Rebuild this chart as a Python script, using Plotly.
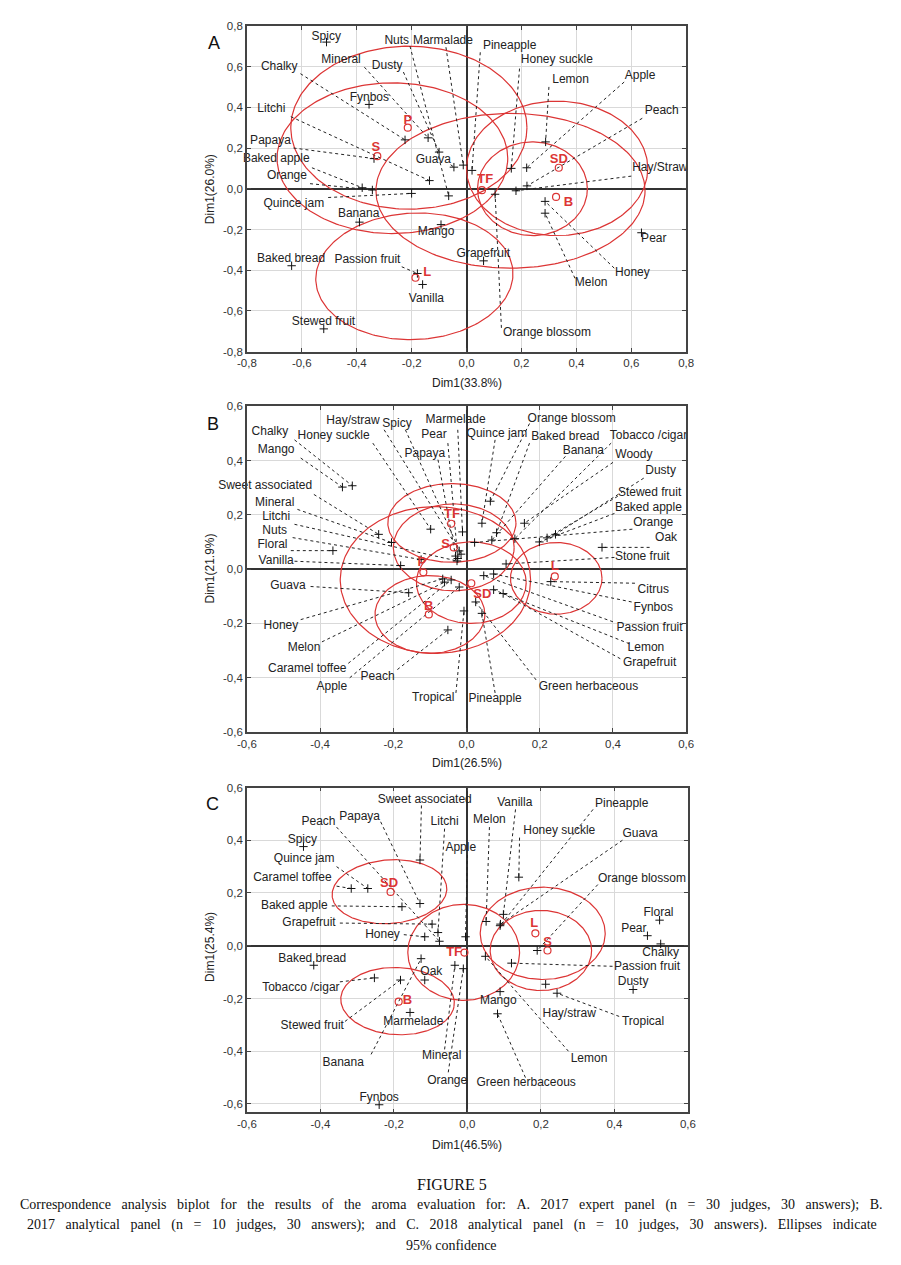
import numpy as np
import plotly.graph_objects as go

# ---------------- Panel A data ----------------
A_attr = ["Spicy", "Nuts", "Marmalade", "Pineapple", "Chalky", "Mineral", "Dusty", "Honey suckle",
          "Lemon", "Apple", "Litchi", "Fynbos", "Peach", "Papaya", "Guava", "Baked apple",
          "Hay/Straw", "Orange", "Quince jam", "Banana", "Mango", "Pear", "Grapefruit",
          "Baked bread", "Passion fruit", "Honey", "Melon", "Vanilla", "Stewed fruit", "Orange blossom"]
A_x = [-0.51, -0.065, -0.012, 0.02, -0.224, -0.14, -0.10, 0.163, 0.288, 0.219, -0.135, -0.355,
       0.22, -0.337, -0.046, -0.38, 0.18, -0.343, -0.20, -0.39, -0.093, 0.637, 0.062, -0.637,
       -0.179, 0.286, 0.286, -0.16, -0.52, 0.104]
A_y = [0.72, -0.035, 0.116, 0.09, 0.24, 0.25, 0.18, 0.10, 0.23, 0.103, 0.04, 0.414, 0.014,
       0.148, 0.106, 0.005, -0.01, -0.006, -0.023, -0.164, -0.176, -0.216, -0.354, -0.378,
       -0.416, -0.062, -0.12, -0.47, -0.688, -0.027]
A_lab_x = [-0.511, -0.254, -0.086, 0.157, -0.682, -0.457, -0.289, 0.329, 0.379, 0.632, -0.711,
           -0.354, 0.711, -0.714, -0.121, -0.693, 0.704, -0.654, -0.629, -0.393, -0.111, 0.682,
           0.061, -0.639, -0.361, 0.604, 0.454, -0.146, -0.521, 0.293]
A_lab_y = [0.747, 0.727, 0.727, 0.703, 0.596, 0.63, 0.601, 0.63, 0.533, 0.553, 0.393, 0.446,
           0.383, 0.233, 0.14, 0.145, 0.102, 0.063, -0.073, -0.126, -0.213, -0.247, -0.318,
           -0.344, -0.349, -0.412, -0.461, -0.539, -0.655, -0.708]
A_lead_x = [None, -0.206, -0.075, 0.05, -0.605, -0.372, -0.23, 0.193, 0.30, 0.574, -0.64, None,
            0.64, -0.63, -0.058, -0.563, 0.60, -0.57, -0.504, None, None, None, None, None,
            -0.236, 0.538, 0.395, None, None, 0.127]
A_lead_y = [None, 0.70, 0.695, 0.67, 0.565, 0.597, 0.573, 0.59, 0.50, 0.524, 0.354, None,
            0.346, 0.20, 0.118, 0.103, 0.062, 0.025, -0.043, None, None, None, None, None,
            -0.383, -0.39, -0.44, None, None, -0.683]
A_prod = ["P", "S", "TF", "SD", "B", "L"]
A_prod_x = [-0.214, -0.325, 0.056, 0.336, 0.326, -0.186]
A_prod_y = [0.30, 0.16, -0.007, 0.103, -0.04, -0.437]
A_prod_lab_x = [-0.214, -0.33, 0.068, 0.336, 0.371, -0.143]
A_prod_lab_y = [0.333, 0.20, 0.046, 0.143, -0.067, -0.412]
A_ell_cx = [-0.21, -0.27, 0.16, 0.33, 0.24, -0.19]
A_ell_cy = [0.30, 0.15, -0.01, 0.10, 0.0, -0.43]
A_ell_rx = [0.43, 0.42, 0.49, 0.33, 0.20, 0.36]
A_ell_ry = [0.40, 0.37, 0.38, 0.33, 0.23, 0.31]
A_ell_ang = [0, 0, 0, 0, 0, 8]
A_ticks = [-0.8, -0.6, -0.4, -0.2, 0.0, 0.2, 0.4, 0.6, 0.8]
A_titles = ("Dim1(33.8%)", "Dim1(26.0%)")

# ---------------- Panel B data ----------------
B_attr = ["Chalky", "Mango", "Honey suckle", "Hay/straw", "Spicy", "Pear", "Papaya", "Marmelade",
          "Quince jam", "Orange blossom", "Baked bread", "Banana", "Tobacco /cigar", "Woody",
          "Dusty", "Stewed fruit", "Baked apple", "Orange", "Oak", "Stone fruit",
          "Sweet associated", "Mineral", "Litchi", "Nuts", "Floral", "Vanilla", "Guava", "Honey",
          "Melon", "Caramel toffee", "Apple", "Peach", "Tropical", "Pineapple",
          "Green herbaceous", "Grapefruit", "Lemon", "Passion fruit", "Fynbos", "Citrus"]
B_x = [-0.312, -0.339, -0.098, -0.02, -0.015, -0.024, -0.03, -0.011, 0.042, 0.065, 0.082, 0.069,
       0.132, 0.158, 0.243, 0.22, 0.199, 0.022, 0.37, 0.108, -0.24, -0.205, -0.026, -0.124,
       -0.365, -0.18, -0.158, -0.065, -0.06, -0.042, -0.02, -0.051, -0.007, 0.042, 0.025, 0.1,
       0.074, 0.047, 0.074, 0.23]
B_y = [0.307, 0.302, 0.147, 0.067, 0.055, 0.039, 0.048, 0.137, 0.169, 0.25, 0.134, 0.107, 0.112,
       0.169, 0.128, 0.115, 0.10, 0.098, 0.08, 0.019, 0.128, 0.098, 0.03, 0.035, 0.068, 0.013,
       -0.087, -0.036, -0.048, -0.04, -0.066, -0.224, -0.154, -0.163, -0.121, -0.09, -0.076,
       -0.024, -0.018, -0.046]
B_lab_x = [-0.537, -0.52, -0.363, -0.31, -0.19, -0.089, -0.114, -0.03, 0.083, 0.287, 0.27, 0.319,
           0.497, 0.457, 0.53, 0.50, 0.497, 0.51, 0.545, 0.48, -0.55, -0.524, -0.52, -0.524,
           -0.53, -0.52, -0.488, -0.507, -0.444, -0.435, -0.368, -0.243, -0.091, 0.078, 0.333,
           0.50, 0.49, 0.50, 0.51, 0.51]
B_lab_y = [0.505, 0.44, 0.49, 0.545, 0.536, 0.493, 0.424, 0.55, 0.497, 0.554, 0.487, 0.436, 0.49,
           0.42, 0.36, 0.28, 0.225, 0.17, 0.116, 0.043, 0.307, 0.244, 0.193, 0.14, 0.09, 0.031,
           -0.064, -0.21, -0.29, -0.368, -0.434, -0.397, -0.474, -0.48, -0.434, -0.344, -0.29,
           -0.218, -0.145, -0.076]
B_lead_x = [-0.47, -0.453, -0.256, -0.225, -0.167, -0.051, -0.078, -0.024, 0.078, 0.172, 0.172,
            0.27, 0.395, 0.40, 0.484, 0.413, 0.404, 0.453, 0.50, 0.404, -0.417, -0.462, -0.47,
            -0.475, -0.48, -0.47, -0.426, -0.453, -0.395, -0.323, -0.319, -0.189, -0.029, 0.078,
            0.19, 0.42, 0.445, 0.40, 0.451, 0.46]
B_lead_y = [0.476, 0.409, 0.464, 0.513, 0.513, 0.464, 0.403, 0.513, 0.476, 0.536, 0.464, 0.415,
            0.464, 0.393, 0.335, 0.268, 0.205, 0.147, 0.08, 0.043, 0.275, 0.22, 0.165, 0.116,
            0.068, 0.029, -0.064, -0.186, -0.268, -0.347, -0.40, -0.37, -0.456, -0.456, -0.408,
            -0.33, -0.275, -0.194, -0.121, -0.052]
B_prod = ["TF", "S", "P", "B", "SD", "L"]
B_prod_x = [-0.042, -0.035, -0.118, -0.103, 0.013, 0.241]
B_prod_y = [0.167, 0.08, -0.012, -0.167, -0.052, -0.027]
B_prod_lab_x = [-0.04, -0.057, -0.122, -0.103, 0.043, 0.241]
B_prod_lab_y = [0.20, 0.09, 0.025, -0.137, -0.094, 0.009]
B_ell_cx = [-0.04, -0.035, -0.085, -0.10, 0.013, 0.245]
B_ell_cy = [0.17, 0.08, -0.04, -0.167, -0.05, -0.034]
B_ell_rx = [0.175, 0.165, 0.26, 0.15, 0.15, 0.125]
B_ell_ry = [0.145, 0.16, 0.27, 0.143, 0.15, 0.132]
B_ell_ang = [0, 0, 0, 0, 0, 0]
B_ticks = [-0.6, -0.4, -0.2, 0.0, 0.2, 0.4, 0.6]
B_titles = ("Dim1(26.5%)", "Dim1(21.9%)")

# ---------------- Panel C data ----------------
C_attr = ["Sweet associated", "Litchi", "Apple", "Peach", "Papaya", "Spicy", "Quince jam",
          "Caramel toffee", "Baked apple", "Grapefruit", "Honey", "Vanilla", "Melon", "Pineapple",
          "Honey suckle", "Guava", "Orange blossom", "Floral", "Pear", "Chalky", "Baked bread",
          "Tobacco /cigar", "Stewed fruit", "Marmelade", "Banana", "Oak", "Mineral", "Orange",
          "Fynbos", "Passion fruit", "Dusty", "Tropical", "Hay/straw", "Mango",
          "Green herbaceous", "Lemon"]
C_x = [-0.129, -0.08, -0.005, -0.076, -0.129, -0.446, -0.271, -0.316, -0.178, -0.096, -0.116,
       0.098, 0.051, 0.089, 0.14, 0.09, 0.19, 0.523, 0.49, 0.526, -0.418, -0.253, -0.182, -0.156,
       -0.126, -0.116, -0.034, -0.011, -0.24, 0.12, 0.451, 0.244, 0.213, 0.089, 0.082, 0.049]
C_y = [0.325, 0.05, 0.034, 0.017, 0.16, 0.376, 0.217, 0.217, 0.148, 0.082, 0.034, 0.119, 0.092,
       0.076, 0.26, 0.082, -0.018, 0.097, 0.038, 0.007, -0.074, -0.122, -0.13, -0.253, -0.049,
       -0.13, -0.074, -0.087, -0.603, -0.066, -0.166, -0.18, -0.146, -0.174, -0.258, -0.04]
C_lab_x = [-0.116, -0.062, -0.018, -0.405, -0.293, -0.449, -0.444, -0.476, -0.471, -0.431,
           -0.231, 0.129, 0.06, 0.42, 0.25, 0.47, 0.475, 0.52, 0.453, 0.526, -0.422, -0.453,
           -0.422, -0.147, -0.338, -0.098, -0.07, -0.055, -0.24, 0.489, 0.451, 0.478, 0.277,
           0.084, 0.16, 0.331]
C_lab_y = [0.554, 0.47, 0.37, 0.47, 0.488, 0.40, 0.328, 0.257, 0.151, 0.086, 0.042, 0.542, 0.475,
           0.538, 0.434, 0.425, 0.254, 0.125, 0.063, -0.028, -0.05, -0.162, -0.303, -0.29,
           -0.443, -0.1, -0.42, -0.514, -0.577, -0.081, -0.137, -0.29, -0.258, -0.208, -0.52,
           -0.43]
C_lead_x = [-0.125, -0.062, 0.0, -0.356, -0.236, None, -0.356, -0.356, -0.369, -0.347, -0.173,
            0.131, 0.06, 0.342, 0.142, 0.422, 0.355, None, None, None, None, -0.347, -0.333,
            None, -0.262, None, -0.062, -0.052, None, 0.395, None, 0.413, None, None, 0.158,
            0.275]
C_lead_y = [0.532, 0.444, 0.344, 0.45, 0.47, None, 0.30, 0.226, 0.151, 0.086, 0.042, 0.517, 0.45,
            0.517, 0.41, 0.40, 0.232, None, None, None, None, -0.137, -0.287, None, -0.412,
            None, -0.393, -0.48, None, -0.078, None, -0.268, None, None, -0.50, -0.40]
C_prod = ["SD", "TF", "L", "S", "B"]
C_prod_x = [-0.209, -0.008, 0.185, 0.218, -0.187]
C_prod_y = [0.204, -0.026, 0.047, -0.018, -0.212]
C_prod_lab_x = [-0.213, -0.036, 0.182, 0.218, -0.163]
C_prod_lab_y = [0.234, -0.028, 0.082, 0.013, -0.208]
C_ell_cx = [-0.212, -0.01, 0.205, 0.20, -0.19]
C_ell_cy = [0.205, -0.025, 0.047, -0.018, -0.21]
C_ell_rx = [0.157, 0.152, 0.17, 0.138, 0.155]
C_ell_ry = [0.12, 0.182, 0.175, 0.152, 0.127]
C_ell_ang = [10, 0, 0, 0, -8]
C_ticks = [-0.6, -0.4, -0.2, 0.0, 0.2, 0.4, 0.6]
C_titles = ("Dim1(46.5%)", "Dim1(25.4%)")

CAPTION_TITLE = "FIGURE 5"
CAPTION = [
    "Correspondence analysis biplot for the results of the aroma evaluation for: A. 2017 expert panel (n = 30 judges, 30 answers); B.",
    "2017 analytical panel (n = 10 judges, 30 answers); and C. 2018 analytical panel (n = 10 judges, 30 answers). Ellipses indicate",
    "95% confidence",
]

# ---------------- figure ----------------
W, H = 901, 1265
RED = "#dc3535"
FONT = "Arial, Liberation Sans, sans-serif"
SERIF = "Liberation Serif, Times New Roman, serif"
NB = "\u00a0"

fig = go.Figure()
annotations = []


def px_x(p):
    return p / W


def px_y(p):
    return 1 - p / H


def fmt(v):
    s = f"{v:.1f}".replace(".", ",")
    return "0,0" if s == "-0,0" else s


def justify(line, extra_pattern):
    words = line.split(" ")
    out = words[0]
    for k, w in enumerate(words[1:]):
        out += " " + NB * extra_pattern[k % len(extra_pattern)] + w
    return out


panels = [
    dict(attr=A_attr, x=A_x, y=A_y, lx=A_lab_x, ly=A_lab_y, dx=A_lead_x, dy=A_lead_y,
         prod=A_prod, px=A_prod_x, py=A_prod_y, plx=A_prod_lab_x, ply=A_prod_lab_y,
         ecx=A_ell_cx, ecy=A_ell_cy, erx=A_ell_rx, ery=A_ell_ry, eang=A_ell_ang,
         ticks=A_ticks, titles=A_titles, xr=[-0.8, 0.8], yr=[-0.8, 0.8],
         xdom=[241.7, 690], ydom=[349, 20], letter="A", letter_pos=(208, 37),
         xt_pos=(466, 381), yt_pos=(204, 185)),
    dict(attr=B_attr, x=B_x, y=B_y, lx=B_lab_x, ly=B_lab_y, dx=B_lead_x, dy=B_lead_y,
         prod=B_prod, px=B_prod_x, py=B_prod_y, plx=B_prod_lab_x, ply=B_prod_lab_y,
         ecx=B_ell_cx, ecy=B_ell_cy, erx=B_ell_rx, ery=B_ell_ry, eang=B_ell_ang,
         ticks=B_ticks, titles=B_titles, xr=[-0.6, 0.6], yr=[-0.6, 0.6],
         xdom=[241.7, 690], ydom=[733, 404], letter="B", letter_pos=(207, 422),
         xt_pos=(466, 764), yt_pos=(204, 568)),
    dict(attr=C_attr, x=C_x, y=C_y, lx=C_lab_x, ly=C_lab_y, dx=C_lead_x, dy=C_lead_y,
         prod=C_prod, px=C_prod_x, py=C_prod_y, plx=C_prod_lab_x, ply=C_prod_lab_y,
         ecx=C_ell_cx, ecy=C_ell_cy, erx=C_ell_rx, ery=C_ell_ry, eang=C_ell_ang,
         ticks=C_ticks, titles=C_titles, xr=[-0.6, 0.6], yr=[-0.632, 0.6],
         xdom=[241.7, 691.7], ydom=[1117, 789], letter="C", letter_pos=(207, 806),
         xt_pos=(466, 1150), yt_pos=(204, 950)),
]

layout_axes = {}
t = np.linspace(0, 2 * np.pi, 240)
for i, P in enumerate(panels, start=1):
    xa = "x" if i == 1 else f"x{i}"
    ya = "y" if i == 1 else f"y{i}"

    # confidence ellipses
    ex, ey = [], []
    for cx, cy, rx, ry, ang in zip(P["ecx"], P["ecy"], P["erx"], P["ery"], P["eang"]):
        a = np.deg2rad(ang)
        xs = cx + rx * np.cos(t) * np.cos(a) - ry * np.sin(t) * np.sin(a)
        ys = cy + rx * np.cos(t) * np.sin(a) + ry * np.sin(t) * np.cos(a)
        ex += list(xs) + [None]
        ey += list(ys) + [None]
    fig.add_trace(go.Scatter(x=ex, y=ey, mode="lines", line=dict(color=RED, width=1.2),
                             xaxis=xa, yaxis=ya, hoverinfo="skip", showlegend=False))

    # dotted leader lines (label -> point)
    lx, ly = [], []
    for x0, y0, x1, y1 in zip(P["dx"], P["dy"], P["x"], P["y"]):
        if x0 is None:
            continue
        lx += [x0, x1, None]
        ly += [y0, y1, None]
    fig.add_trace(go.Scatter(x=lx, y=ly, mode="lines",
                             line=dict(color="#222222", width=1, dash="dot"),
                             xaxis=xa, yaxis=ya, hoverinfo="skip", showlegend=False))

    # attribute points
    fig.add_trace(go.Scatter(x=P["x"], y=P["y"], mode="markers", text=P["attr"],
                             marker=dict(symbol="cross-thin", size=6, color="#111111",
                                         line=dict(color="#111111", width=1)),
                             xaxis=xa, yaxis=ya, showlegend=False))
    # attribute labels
    fig.add_trace(go.Scatter(x=P["lx"], y=P["ly"], mode="text", text=P["attr"],
                             textposition="middle center", cliponaxis=False,
                             textfont=dict(family=FONT, size=12, color="#222222"),
                             xaxis=xa, yaxis=ya, hoverinfo="skip", showlegend=False))
    # product points and labels
    fig.add_trace(go.Scatter(x=P["px"], y=P["py"], mode="markers", text=P["prod"],
                             marker=dict(symbol="circle-open", size=7, color=RED,
                                         line=dict(color=RED, width=1.2)),
                             xaxis=xa, yaxis=ya, showlegend=False))
    fig.add_trace(go.Scatter(x=P["plx"], y=P["ply"], mode="text", text=P["prod"],
                             textposition="middle center", cliponaxis=False,
                             textfont=dict(family=FONT, size=13, color=RED, weight="bold"),
                             xaxis=xa, yaxis=ya, hoverinfo="skip", showlegend=False))

    common = dict(showgrid=True, gridcolor="#d9d9d9", gridwidth=1,
                  zeroline=True, zerolinecolor="#333333", zerolinewidth=2,
                  showline=True, linecolor="#444444", linewidth=1.5, mirror="ticks",
                  ticks="inside", ticklen=4, tickcolor="#444444",
                  tickfont=dict(family=FONT, size=11.5, color="#333333"),
                  tickvals=P["ticks"], ticktext=[fmt(v) for v in P["ticks"]],
                  fixedrange=True)
    layout_axes["xaxis" if i == 1 else f"xaxis{i}"] = dict(
        common, range=P["xr"], domain=[px_x(P["xdom"][0]), px_x(P["xdom"][1])],
        anchor=ya)
    layout_axes["yaxis" if i == 1 else f"yaxis{i}"] = dict(
        common, range=P["yr"], domain=[px_y(P["ydom"][0]), px_y(P["ydom"][1])],
        anchor=xa)

    annotations.append(dict(text=P["letter"], x=px_x(P["letter_pos"][0]),
                            y=px_y(P["letter_pos"][1]), xref="paper", yref="paper",
                            xanchor="center", yanchor="middle",
                            showarrow=False, font=dict(family=FONT, size=18, color="#111111")))
    annotations.append(dict(text=P["titles"][0], x=px_x(P["xt_pos"][0]),
                            y=px_y(P["xt_pos"][1]), xref="paper", yref="paper",
                            xanchor="center", yanchor="middle",
                            showarrow=False, font=dict(family=FONT, size=12, color="#222222")))
    annotations.append(dict(text=P["titles"][1], x=px_x(P["yt_pos"][0]),
                            y=px_y(P["yt_pos"][1]), xref="paper", yref="paper",
                            xanchor="center", yanchor="middle",
                            textangle=-90, showarrow=False,
                            font=dict(family=FONT, size=12, color="#222222")))

annotations.append(dict(text=CAPTION_TITLE, x=0.5, y=px_y(1190), xref="paper", yref="paper",
                        xanchor="center", yanchor="middle",
                        showarrow=False, font=dict(family=SERIF, size=16, color="#111111")))
cap_lines = [justify(CAPTION[0], [2]), justify(CAPTION[1], [2]), CAPTION[2]]
for line, yy in zip(cap_lines, [1210, 1231, 1251]):
    annotations.append(dict(text=line, x=0.5, y=px_y(yy), xref="paper", yref="paper",
                            xanchor="center", yanchor="middle",
                            showarrow=False, font=dict(family=SERIF, size=14, color="#111111")))

fig.update_layout(width=W, height=H, margin=dict(l=0, r=0, t=0, b=0),
                  paper_bgcolor="white", plot_bgcolor="white", showlegend=False,
                  annotations=annotations, **layout_axes)

fig.write_html("out.html", config={"displayModeBar": False},
               post_script="document.body.style.margin='0px';")
